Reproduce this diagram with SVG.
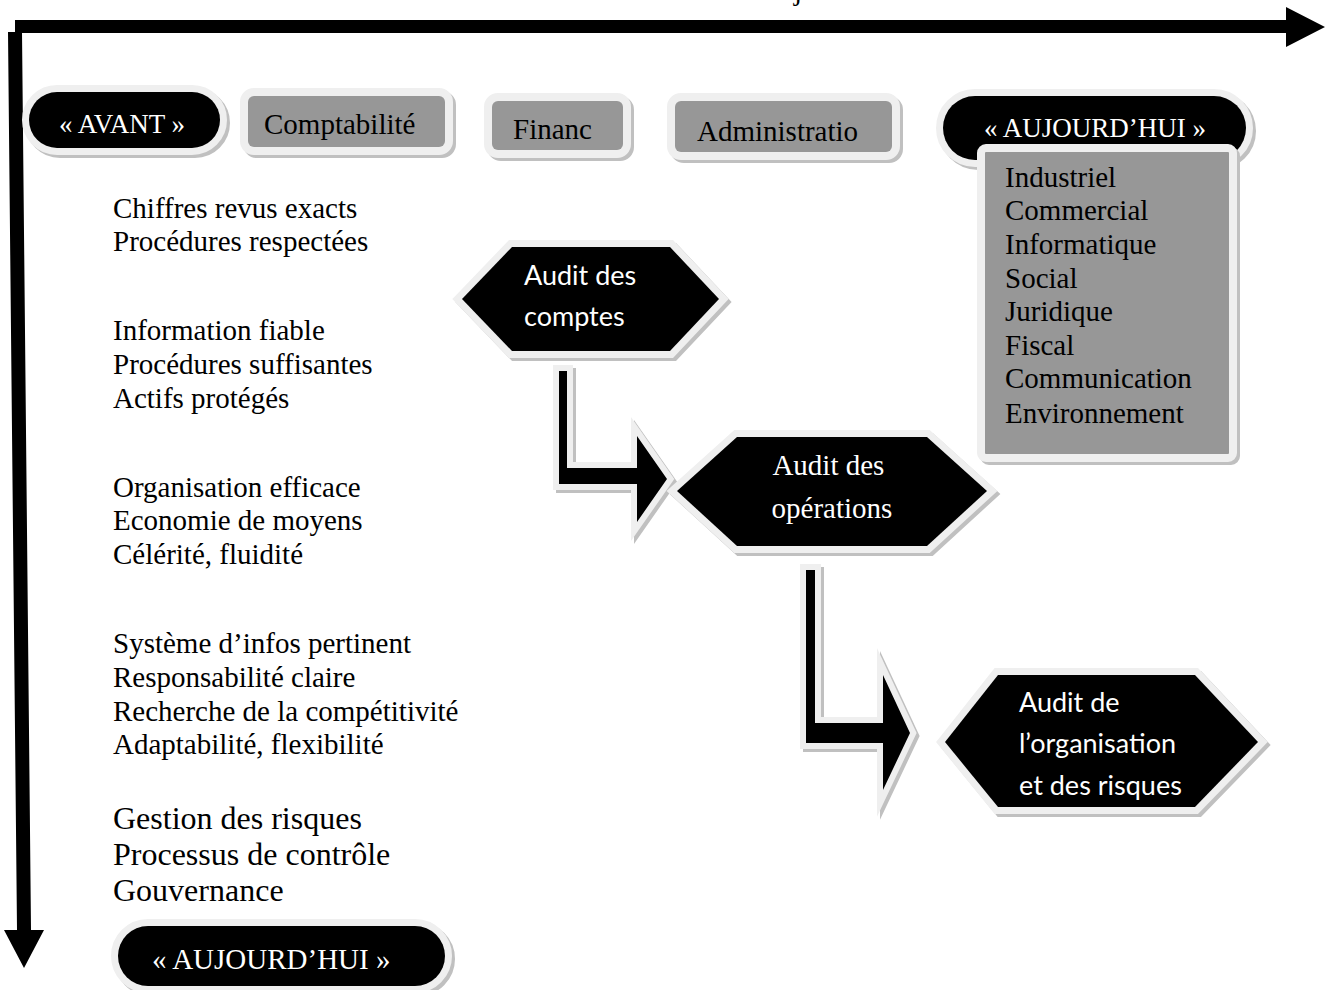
<svg xmlns="http://www.w3.org/2000/svg" xmlns:xlink="http://www.w3.org/1999/xlink" width="1331" height="990" viewBox="0 0 1331 990">
  <style>
    .halo{fill:#efefef;stroke:#efefef;stroke-linejoin:miter;stroke-miterlimit:12}
    .shade{fill:#c0c0c0;stroke:#c0c0c0;stroke-linejoin:miter;stroke-miterlimit:12}
    .ink{fill:#000}
    .grey{fill:#979797}
    .tnr{font-family:"Liberation Serif","Times New Roman",serif}
    .cal{font-family:Lato,"Liberation Sans",sans-serif}
    .w{fill:#fff}
    .k{fill:#000}
    .s27{font-size:27px}
    .s29{font-size:29px}
    .s32{font-size:32px}
  </style>
  <defs>
    <rect id="avant" x="29" y="92" width="191" height="56" rx="28"/>
    <rect id="compta" x="248" y="96" width="197" height="51" rx="6"/>
    <rect id="financ" x="492" y="101" width="131" height="49" rx="6"/>
    <rect id="admin" x="675" y="101" width="217" height="51" rx="6"/>
    <rect id="aujTop" x="943" y="96" width="303" height="64" rx="32"/>
    <rect id="domains" x="985" y="152" width="244" height="302" rx="1"/>
    <rect id="aujBottom" x="118" y="926" width="327" height="60" rx="30"/>
    <polygon id="hexComptes" points="462,299 512,247 670,247 719,299 670,351 512,351"/>
    <polygon id="hexOps" points="677,491 737,437 927,437 987,491 927,546 737,546"/>
    <polygon id="hexOrg" points="945,742 998,675 1195,675 1258,742 1195,807 998,807"/>
    <path id="bend1" d="M559,371 H567 V468 H637 V436 L667,479 L637,522 V484 H559 Z"/>
    <path id="bend2" d="M806,570 H815 V723 H883 V675 L910,733 L883,790 V743 H806 Z"/>
  </defs>

  <!-- title line, running above the top edge of the page -->
  <text class="tnr s29 k" x="454" y="0">Evolution des domaines et sujets audités</text>

  <!-- time axes -->
  <g id="axes" class="ink">
    <path d="M15,20 H1286 V7 L1325,27 L1286,47 V33 H15 Z"/>
    <path d="M8,32 H22 L31,930 H44 L24,968 L4,930 H17 Z"/>
  </g>

  <!-- bent arrows between audit stages -->
  <g id="connectors">
    <use xlink:href="#bend1" class="shade" stroke-width="12" transform="translate(3,3)"/>
    <use xlink:href="#bend1" class="halo" stroke-width="12"/>
    <use xlink:href="#bend1" class="ink"/>
    <use xlink:href="#bend2" class="shade" stroke-width="12" transform="translate(3,3)"/>
    <use xlink:href="#bend2" class="halo" stroke-width="12"/>
    <use xlink:href="#bend2" class="ink"/>
  </g>

  <g id="node-avant">
    <use xlink:href="#avant" class="shade" stroke-width="14" transform="translate(3,3)"/>
    <use xlink:href="#avant" class="halo" stroke-width="14"/>
    <use xlink:href="#avant" class="ink"/>
    <text class="tnr s27 w" x="59" y="133">« AVANT »</text>
  </g>

  <g id="node-comptabilite">
    <use xlink:href="#compta" class="shade" stroke-width="16" transform="translate(3,3)"/>
    <use xlink:href="#compta" class="halo" stroke-width="16"/>
    <use xlink:href="#compta" class="grey"/>
    <text class="tnr s29 k" x="264" y="134">Comptabilité</text>
  </g>

  <g id="node-financ">
    <use xlink:href="#financ" class="shade" stroke-width="16" transform="translate(3,3)"/>
    <use xlink:href="#financ" class="halo" stroke-width="16"/>
    <use xlink:href="#financ" class="grey"/>
    <text class="tnr s29 k" x="513" y="139">Financ</text>
  </g>

  <g id="node-administratio">
    <use xlink:href="#admin" class="shade" stroke-width="16" transform="translate(3,3)"/>
    <use xlink:href="#admin" class="halo" stroke-width="16"/>
    <use xlink:href="#admin" class="grey"/>
    <text class="tnr s29 k" x="697" y="141">Administratio</text>
  </g>

  <g id="node-aujourdhui-top">
    <use xlink:href="#aujTop" class="shade" stroke-width="14" transform="translate(3,3)"/>
    <use xlink:href="#aujTop" class="halo" stroke-width="14"/>
    <use xlink:href="#aujTop" class="ink"/>
    <text class="tnr s27 w" x="984" y="137">« AUJOURD’HUI »</text>
  </g>

  <g id="node-domaines">
    <use xlink:href="#domains" class="shade" stroke-width="16" transform="translate(3,3)"/>
    <use xlink:href="#domains" class="halo" stroke-width="16"/>
    <use xlink:href="#domains" class="grey"/>
    <text class="tnr s29 k">
      <tspan x="1005" y="187">Industriel</tspan>
      <tspan x="1005" y="220">Commercial</tspan>
      <tspan x="1005" y="254">Informatique</tspan>
      <tspan x="1005" y="288">Social</tspan>
      <tspan x="1005" y="321">Juridique</tspan>
      <tspan x="1005" y="355">Fiscal</tspan>
      <tspan x="1005" y="388">Communication</tspan>
      <tspan x="1005" y="423">Environnement</tspan>
    </text>
  </g>

  <g id="node-objectifs" class="tnr k">
    <text class="s29">
      <tspan x="113" y="218">Chiffres revus exacts</tspan>
      <tspan x="113" y="251">Procédures respectées</tspan>
      <tspan x="113" y="340">Information fiable</tspan>
      <tspan x="113" y="374">Procédures suffisantes</tspan>
      <tspan x="113" y="408">Actifs protégés</tspan>
      <tspan x="113" y="497">Organisation efficace</tspan>
      <tspan x="113" y="530">Economie de moyens</tspan>
      <tspan x="113" y="564">Célérité, fluidité</tspan>
      <tspan x="113" y="653">Système d’infos pertinent</tspan>
      <tspan x="113" y="687">Responsabilité claire</tspan>
      <tspan x="113" y="721">Recherche de la compétitivité</tspan>
      <tspan x="113" y="754">Adaptabilité, flexibilité</tspan>
    </text>
    <text class="s32">
      <tspan x="113" y="829">Gestion des risques</tspan>
      <tspan x="113" y="865">Processus de contrôle</tspan>
      <tspan x="113" y="901">Gouvernance</tspan>
    </text>
  </g>

  <g id="node-audit-comptes">
    <use xlink:href="#hexComptes" class="shade" stroke-width="14" transform="translate(3,3)"/>
    <use xlink:href="#hexComptes" class="halo" stroke-width="14"/>
    <use xlink:href="#hexComptes" class="ink"/>
    <text class="cal s27 w">
      <tspan x="524" y="285">Audit des</tspan>
      <tspan x="524" y="326">comptes</tspan>
    </text>
  </g>

  <g id="node-audit-operations">
    <use xlink:href="#hexOps" class="shade" stroke-width="14" transform="translate(3,3)"/>
    <use xlink:href="#hexOps" class="halo" stroke-width="14"/>
    <use xlink:href="#hexOps" class="ink"/>
    <text class="tnr s29 w" text-anchor="middle">
      <tspan x="832" y="475">Audit des</tspan>
      <tspan x="832" y="518">opérations</tspan>
    </text>
  </g>

  <g id="node-audit-organisation">
    <use xlink:href="#hexOrg" class="shade" stroke-width="14" transform="translate(3,3)"/>
    <use xlink:href="#hexOrg" class="halo" stroke-width="14"/>
    <use xlink:href="#hexOrg" class="ink"/>
    <text class="cal s27 w">
      <tspan x="1019" y="712">Audit de</tspan>
      <tspan x="1019" y="753">l’organisation</tspan>
      <tspan x="1019" y="795">et des risques</tspan>
    </text>
  </g>

  <g id="node-aujourdhui-bottom">
    <use xlink:href="#aujBottom" class="shade" stroke-width="14" transform="translate(3,3)"/>
    <use xlink:href="#aujBottom" class="halo" stroke-width="14"/>
    <use xlink:href="#aujBottom" class="ink"/>
    <text class="tnr s29 w" x="152" y="969">« AUJOURD’HUI »</text>
  </g>
</svg>
